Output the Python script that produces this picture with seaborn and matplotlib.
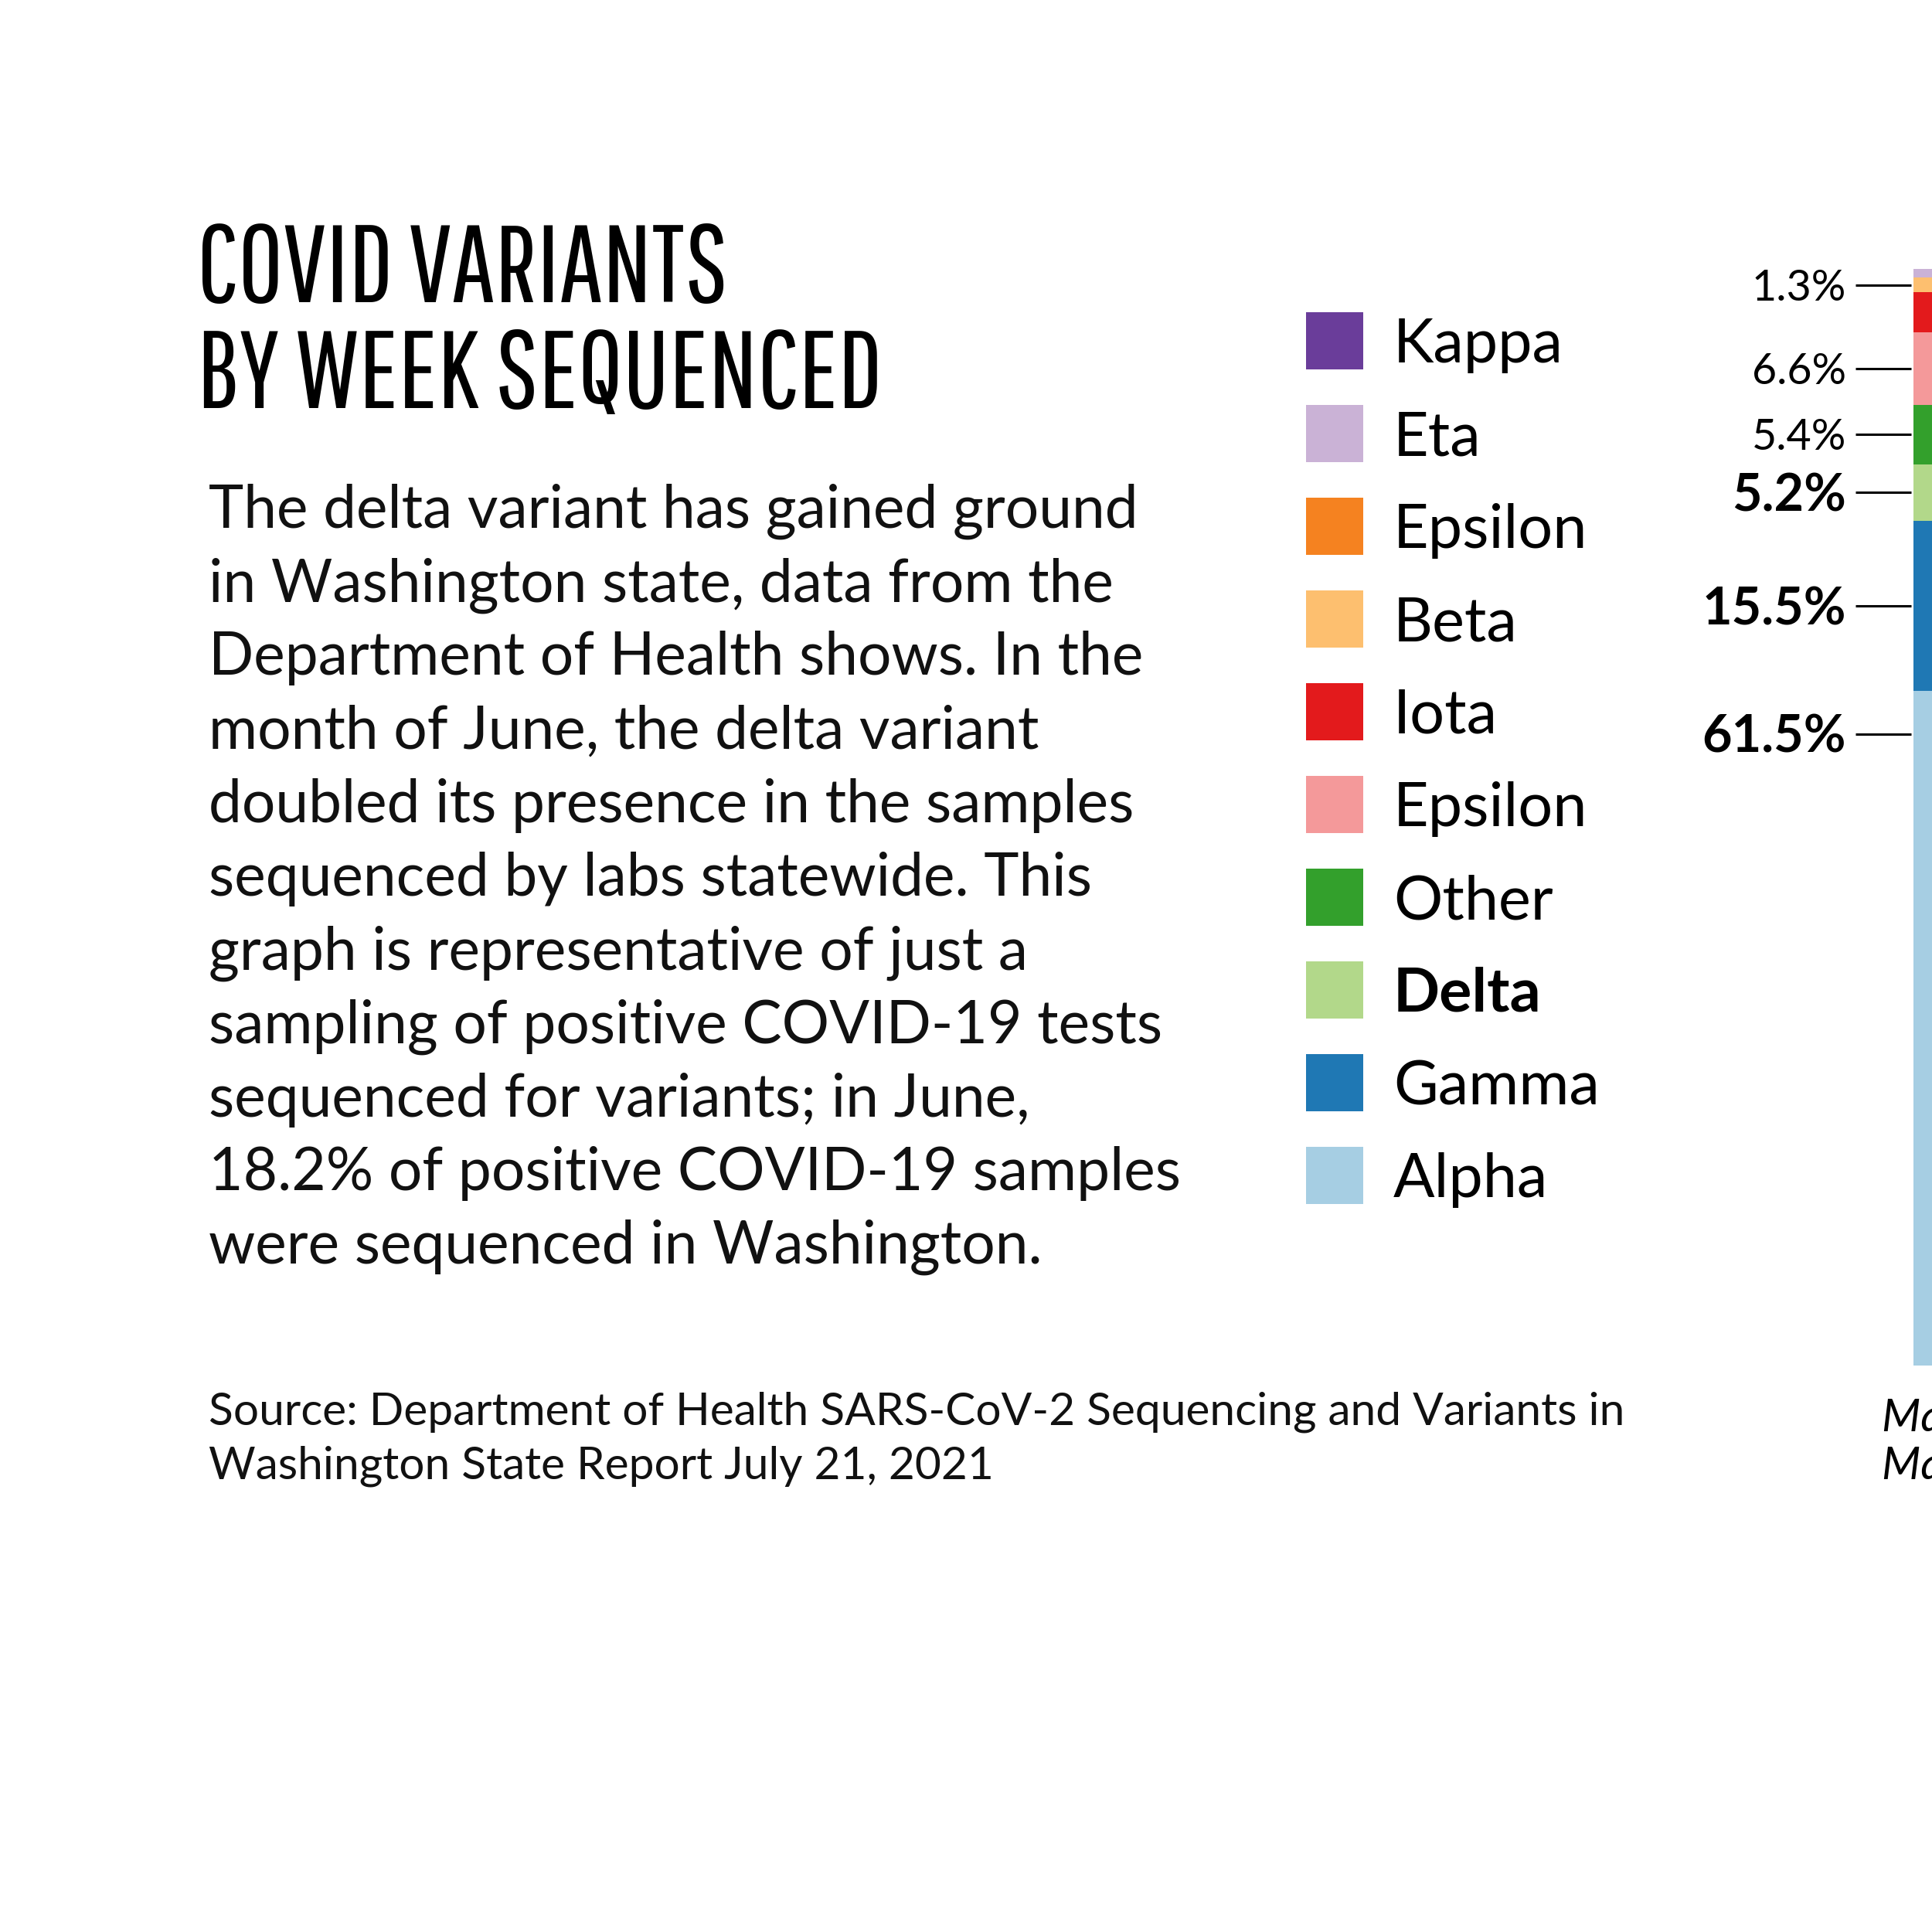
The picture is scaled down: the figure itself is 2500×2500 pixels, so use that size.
import matplotlib
matplotlib.use("Agg")
import matplotlib.pyplot as plt
from matplotlib.patches import Rectangle
from matplotlib.transforms import blended_transform_factory, offset_copy
import seaborn as sns

# one weekly bar, stacked bottom -> top
week_label = "May 2 -\nMay 8"
variants = ["Alpha", "Gamma", "Delta", "Other", "Epsilon", "Iota", "Beta", "Epsilon", "Eta", "Kappa"]
shares = [61.5, 15.5, 5.2, 5.4, 6.6, 3.7, 1.3, 0.0, 0.8, 0.0]
colors = ["#a6cee3", "#1f78b4", "#b2d88a", "#33a02c", "#f4999a",
          "#e31a1c", "#fdbf6f", "#f58220", "#cab2d6", "#6a3d9a"]
labels = ["61.5%", "15.5%", "5.2%", "5.4%", "6.6%", "", "1.3%", "", "", ""]
bold_labels = ["Alpha", "Gamma", "Delta"]

title_lines = ["COVID VARIANTS", "BY WEEK SEQUENCED"]
body_lines = [
    "The delta variant has gained ground",
    "in Washington state, data from the",
    "Department of Health shows. In the",
    "month of June, the delta variant",
    "doubled its presence in the samples",
    "sequenced by labs statewide. This",
    "graph is representative of just a",
    "sampling of positive COVID-19 tests",
    "sequenced for variants; in June,",
    "18.2% of positive COVID-19 samples",
    "were sequenced in Washington.",
]
source_lines = [
    "Source: Department of Health SARS-CoV-2 Sequencing and Variants in",
    "Washington State Report July 21, 2021",
]

sns.set_theme(style="white")
plt.rcParams["font.family"] = ["Lato", "DejaVu Sans"]

W = 2500.0
fig = plt.figure(figsize=(25, 25), dpi=100)
fig.patch.set_facecolor("white")

# title
title_font = ["Pathway Gothic One", "Sofia Sans Extra Condensed", "Saira Extra Condensed",
              "Barlow Condensed", "DejaVu Sans"]
for i, line in enumerate(title_lines):
    fig.text(255 / W, 1 - (391 + i * 137) / W, line, ha="left", va="baseline",
             fontsize=102, family=title_font, color="black")

# body copy
for i, line in enumerate(body_lines):
    fig.text(270 / W, 1 - (683 + i * 95.2) / W, line, ha="left", va="baseline",
             fontsize=55.3, color="#111111")

for i, line in enumerate(source_lines):
    fig.text(270 / W, 1 - (1844 + i * 70) / W, line, ha="left", va="baseline",
             fontsize=42.2, color="#111111")

# legend, top -> bottom
for i, (name, col) in enumerate(zip(variants[::-1], colors[::-1])):
    yc = 441 + i * 120
    fig.patches.append(Rectangle((1690 / W, 1 - (yc + 37) / W), 74 / W, 74 / W,
                                 transform=fig.transFigure, facecolor=col, edgecolor="none"))
    fig.text(1803 / W, 1 - (yc + 28) / W, name, ha="left", va="baseline",
             fontsize=57, color="black",
             fontweight="bold" if name == "Delta" else "normal")

# the stacked bar
ax = fig.add_axes([2476 / W, 1 - 1767 / W, 0.05, (1767 - 348) / W])
bottom = 0.0
label_y = []
for name, val, col in zip(variants, shares, colors):
    sns.barplot(x=[week_label], y=[val], bottom=bottom, color=col, saturation=1,
                width=1.0, linewidth=0, ax=ax)
    label_y.append(bottom + val / 2 if name != "Alpha" else bottom + val - 3.9)
    bottom += val
ax.set_xlim(-0.5, 0.5)
ax.set_ylim(0, 100)
ax.axis("off")

blend = blended_transform_factory(fig.transFigure, ax.transData)
for name, lab, y in zip(variants, labels, label_y):
    if not lab:
        continue
    big = name in bold_labels
    ax.plot([2401 / W, 2473 / W], [y, y], transform=blend, color="black",
            lw=2.2, clip_on=False, solid_capstyle="butt")
    cap = 48 if big else 40
    ax.text(2389 / W, y, lab, transform=offset_copy(blend, fig=fig, y=-cap / 2, units="dots"),
            ha="right", va="baseline", fontsize=cap,
            fontweight="bold" if big else "normal", color="black")

# week label sits under the bar and runs off the right edge, as in the original
for i, line in enumerate(week_label.split("\n")):
    fig.text(2435 / W, 1 - (1852 + i * 62) / W, line, ha="left", va="baseline",
             fontsize=42, fontstyle="italic", color="black")

fig.savefig("out.png", dpi=100, facecolor="white")
